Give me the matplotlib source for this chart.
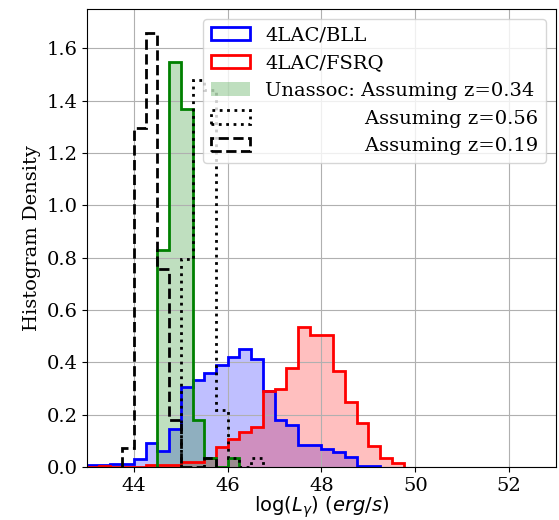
import numpy as np
import matplotlib
matplotlib.use("Agg")
import matplotlib.pyplot as plt

plt.rcParams["font.family"] = "DejaVu Serif"
plt.rcParams["mathtext.fontset"] = "dejavusans"
plt.rcParams["font.size"] = 14

bin_width = 0.25

# 4LAC BL Lacs: log luminosity histogram (density), bins start at 43.0
bll_start = 43.0
bll_density = [0.006, 0.006, 0.013, 0.013, 0.032, 0.092, 0.062, 0.145,
               0.305, 0.333, 0.360, 0.390, 0.420, 0.451, 0.413, 0.290,
               0.180, 0.160, 0.084, 0.084, 0.068, 0.059, 0.037, 0.005,
               0.004]

# 4LAC FSRQs, bins start at 43.0
fsrq_start = 43.0
fsrq_density = [0.0, 0.005, 0.0, 0.0, 0.0, 0.008, 0.008, 0.008,
                0.020, 0.020, 0.033, 0.078, 0.106, 0.135, 0.152, 0.290,
                0.298, 0.377, 0.534, 0.505, 0.505, 0.368, 0.250, 0.170,
                0.082, 0.033, 0.014]

# Unassociated sources at three assumed redshifts
unassoc_z034_start = 44.5
unassoc_z034 = [0.828, 1.548, 1.368, 0.180, 0.036, 0.0, 0.036]
unassoc_z056_start = 45.0
unassoc_z056 = [0.793, 1.477, 1.441, 0.216, 0.036, 0.0, 0.036]
unassoc_z019_start = 43.75
unassoc_z019 = [0.072, 1.297, 1.658, 0.757, 0.180, 0.0, 0.0, 0.036]

labels = ["4LAC/BLL", "4LAC/FSRQ", "Unassoc: Assuming z=0.34",
          "                Assuming z=0.56", "                Assuming z=0.19"]


def edges_for(start, values):
    return start + bin_width * np.arange(len(values) + 1)


def centers_for(start, values):
    e = edges_for(start, values)
    return 0.5 * (e[:-1] + e[1:])


fig = plt.figure(figsize=(5.59, 5.20), dpi=100)
ax = fig.add_axes([0.1556, 0.1019, 0.9946 - 0.1556, 0.9827 - 0.1019])

# BLL
e = edges_for(bll_start, bll_density)
c = centers_for(bll_start, bll_density)
ax.hist(c, bins=e, weights=bll_density, histtype="stepfilled",
        color="blue", alpha=0.25)
ax.hist(c, bins=e, weights=bll_density, histtype="step",
        color="blue", lw=2, label=labels[0])

# FSRQ
e = edges_for(fsrq_start, fsrq_density)
c = centers_for(fsrq_start, fsrq_density)
ax.hist(c, bins=e, weights=fsrq_density, histtype="stepfilled",
        color="red", alpha=0.25)
ax.hist(c, bins=e, weights=fsrq_density, histtype="step",
        color="red", lw=2, label=labels[1])

# Unassociated, z = 0.34
e = edges_for(unassoc_z034_start, unassoc_z034)
c = centers_for(unassoc_z034_start, unassoc_z034)
ax.hist(c, bins=e, weights=unassoc_z034, histtype="stepfilled",
        color="green", alpha=0.25, label=labels[2])
ax.hist(c, bins=e, weights=unassoc_z034, histtype="step",
        color="green", lw=2)

# Unassociated, z = 0.56
e = edges_for(unassoc_z056_start, unassoc_z056)
c = centers_for(unassoc_z056_start, unassoc_z056)
ax.hist(c, bins=e, weights=unassoc_z056, histtype="step",
        color="black", lw=2, ls=":", label=labels[3])

# Unassociated, z = 0.19
e = edges_for(unassoc_z019_start, unassoc_z019)
c = centers_for(unassoc_z019_start, unassoc_z019)
ax.hist(c, bins=e, weights=unassoc_z019, histtype="step",
        color="black", lw=2, ls="--", label=labels[4])

ax.set_xlim(43, 53)
ax.set_ylim(0, 1.75)
ax.set_xticks([44, 46, 48, 50, 52])
ax.set_yticks(np.arange(0, 1.61, 0.2))
ax.grid(True)
ax.set_xlabel(r"$\log(L_\gamma)\ (erg/s)$", labelpad=-0.5)
ax.set_ylabel("Histogram Density", labelpad=4)
ax.legend(loc="upper right", fontsize=14)

fig.savefig("out.png", dpi=100)
